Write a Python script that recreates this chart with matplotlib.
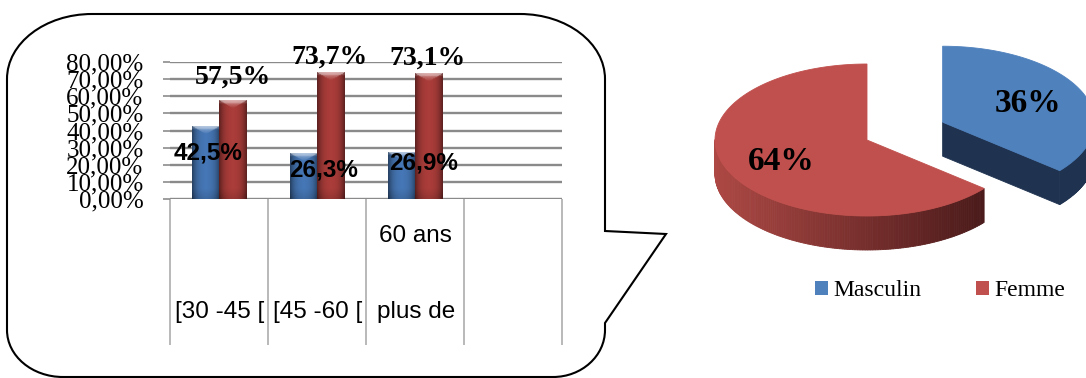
import textwrap

import numpy as np
import matplotlib.pyplot as plt
from matplotlib.path import Path
from matplotlib.patches import PathPatch, Polygon, Patch
from matplotlib.colors import to_rgb

# age groups and share of each sex (%)
categories = ["[30 -45 [", "[45 -60 [", "plus de 60 ans"]
masculin = [42.5, 26.3, 26.9]
femme = [57.5, 73.7, 73.1]
y_ticks = [0, 10, 20, 30, 40, 50, 60, 70, 80]

# overall split by sex (%)
pie_labels = ["Masculin", "Femme"]
pie_values = [36, 64]

BLUE = "#4f81bd"
RED = "#c0504d"
SERIF = "Liberation Serif"
SANS = "Liberation Sans"

W, H = 1086, 378
fig = plt.figure(figsize=(W / 100, H / 100), dpi=100)

# background layer in pixel units (y down) for the callout and the 3d pie
bg = fig.add_axes([0, 0, 1, 1])
bg.set_xlim(0, W)
bg.set_ylim(H, 0)
bg.axis("off")


def corner(p0, p1, p2):
    # cubic approximation of a quarter ellipse from p0 to p2 with control corner p1
    k = 0.5523
    c1 = (p0[0] + k * (p1[0] - p0[0]), p0[1] + k * (p1[1] - p0[1]))
    c2 = (p2[0] + k * (p1[0] - p2[0]), p2[1] + k * (p1[1] - p2[1]))
    return [c1, c2, p2]


left, right, top, bottom = 7, 605, 14, 377
verts = [(left + 85, top), (right - 85, top)]
codes = [Path.MOVETO, Path.LINETO]
verts += corner((right - 85, top), (right, top), (right, top + 65))
codes += [Path.CURVE4] * 3
verts += [(right, 231), (666, 234), (right, 323), (right, bottom - 47)]
codes += [Path.LINETO] * 4
verts += corner((right, bottom - 47), (right, bottom), (right - 52, bottom))
codes += [Path.CURVE4] * 3
verts += [(left + 56, bottom)]
codes += [Path.LINETO]
verts += corner((left + 56, bottom), (left, bottom), (left, bottom - 47))
codes += [Path.CURVE4] * 3
verts += [(left, top + 65)]
codes += [Path.LINETO]
verts += corner((left, top + 65), (left, top), (left + 85, top))
codes += [Path.CURVE4] * 3
bg.add_patch(PathPatch(Path(verts, codes), facecolor="white", edgecolor="black", lw=1.5))


# ---- 3d pie ----
cx, cy, rx, ry, depth = 867, 140, 152, 76, 34
explode = [0.55, 0.0]
pie_colors = [BLUE, RED]
side_colors = [("#1f3350", "#1f3350"), ("#ad4844", "#4a1a1a")]

fracs = np.array(pie_values, dtype=float) / sum(pie_values)
start = 90.0
wedges = []
for frac, ex in zip(fracs, explode):
    a0, a1 = start, start - 360 * frac
    mid = np.radians((a0 + a1) / 2)
    wx = cx + ex * rx * np.cos(mid)
    wy = cy - ex * ry * np.sin(mid)
    wedges.append((a0, a1, wx, wy))
    start = a1


def rim(wx, wy, a):
    a = np.radians(a)
    return wx + rx * np.cos(a), wy - ry * np.sin(a)


# sides first
for (a0, a1, wx, wy), (c_left, c_right) in zip(wedges, side_colors):
    angs = np.linspace(a0, a1, 240)
    xs = [rim(wx, wy, a)[0] for a in angs]
    xmin, xmax = min(xs), max(xs)
    cl, cr = np.array(to_rgb(c_left)), np.array(to_rgb(c_right))
    for a, b in zip(angs[:-1], angs[1:]):
        if np.sin(np.radians((a + b) / 2)) >= 0:
            continue
        pa, pb = rim(wx, wy, a), rim(wx, wy, b)
        t = ((pa[0] + pb[0]) / 2 - xmin) / (xmax - xmin)
        col = cl + (cr - cl) * t
        bg.add_patch(Polygon([pa, pb, (pb[0], pb[1] + depth), (pa[0], pa[1] + depth)],
                             closed=True, facecolor=col, edgecolor=col, lw=0.6))
    # radial faces turned towards the viewer
    for edge, normal in ((a0, a0 + 90), (a1, a1 - 90)):
        if np.sin(np.radians(normal)) < -0.05:
            pe = rim(wx, wy, edge)
            bg.add_patch(Polygon([(wx, wy), pe, (pe[0], pe[1] + depth), (wx, wy + depth)],
                                 closed=True, facecolor=c_left, edgecolor=c_left, lw=0.6))

# tops
for (a0, a1, wx, wy), col in zip(wedges, pie_colors):
    pts = [(wx, wy)] + [rim(wx, wy, a) for a in np.linspace(a0, a1, 200)]
    bg.add_patch(Polygon(pts, closed=True, facecolor=col, edgecolor=col, lw=0.6))

for (a0, a1, wx, wy), val in zip(wedges, pie_values):
    mid = np.radians((a0 + a1) / 2)
    bg.text(wx + 0.62 * rx * np.cos(mid), wy - 0.62 * ry * np.sin(mid) + 1, f"{val}%",
            ha="center", va="center", fontsize=24, fontweight="bold", family=SERIF)

bg.legend([Patch(facecolor=BLUE), Patch(facecolor=RED)], pie_labels,
          loc="center", bbox_to_anchor=(940, 291), bbox_transform=bg.transData,
          ncol=2, frameon=False, prop={"family": SERIF, "size": 17},
          handlelength=0.55, handleheight=0.55, handletextpad=0.25,
          columnspacing=2.3, borderpad=0)


# ---- grouped bars ----
ax = fig.add_axes([170 / W, 1 - 199 / H, 392 / W, 137 / H])
ax.set_facecolor("none")

x = np.arange(len(categories)) + 0.5
bw = 0.28
bars_m = ax.bar(x - bw / 2, masculin, bw, color=BLUE, zorder=2)
bars_f = ax.bar(x + bw / 2, femme, bw, color=RED, zorder=2)


def shade_bars(bars, base, cap=4.5):
    base = np.array(to_rgb(base))
    for rect in bars:
        x0, w, h = rect.get_x(), rect.get_width(), rect.get_height()
        u = np.linspace(0, 1, 40)[None, :]
        v = np.linspace(0, h, 120)[:, None]
        edge = np.abs(2 * u - 1)
        k = 1.0 - 0.38 * edge ** 3 - 0.08 * edge
        k = k - 0.12 * np.clip(1 - v / 6.0, 0, 1)
        img = base[None, None, :] * k[..., None]
        tip = (h - v) / cap
        light = np.where(tip < 1 - edge, 0.45 * (1 - tip), 0.0)
        light = light + np.where(tip < 0.35, 0.15, 0.0)
        img = img + (1 - img) * np.clip(light, 0, 0.6)[..., None]
        ax.imshow(np.clip(img, 0, 1), extent=(x0, x0 + w, 0, h), origin="lower",
                  aspect="auto", interpolation="bilinear", zorder=3)


shade_bars(bars_m, "#4677b6")
shade_bars(bars_f, "#ab3d3a")

ax.set_xlim(0, len(categories) + 1)
ax.set_ylim(0, 80)

ax.set_yticks(y_ticks)
ax.set_yticklabels([f"{t:.2f}".replace(".", ",") + "%" for t in y_ticks])
for lab in ax.get_yticklabels():
    lab.set_family(SERIF)
ax.tick_params(axis="y", length=5, color="#8c8c8c", width=1.2, pad=14, labelsize=18)
ax.yaxis.grid(True, color="#8a8a8a", lw=1.7)
ax.set_axisbelow(True)

ax.set_xticks(np.arange(len(categories) + 2))
ax.set_xticklabels([])
ax.tick_params(axis="x", length=105, color="#a6a6a6", width=1.1, direction="out")
for s in ax.spines.values():
    s.set_visible(False)

# category names below the axis, wrapped lines stacked upwards
for xi, name in zip(x, categories):
    for i, line in enumerate(textwrap.wrap(name, 9)):
        ax.annotate(line, (xi, 0), xytext=(0.5, -81.5 + i * 55), textcoords="offset points",
                    ha="center", va="center", fontsize=17.5, family=SANS)

# value labels (offsets in points)
off_m = [(2, -19.5), (14.5, -11.5), (16, -7)]
off_f = [(0, 17), (-1, 11), (-1, 11.5)]
for rect, val, (dx, dy) in zip(bars_m, masculin, off_m):
    ax.annotate(f"{val:.1f}".replace(".", ",") + "%", (rect.get_x() + rect.get_width() / 2, val),
                xytext=(dx, dy), textcoords="offset points", ha="center", va="center",
                fontsize=17.5, fontweight="bold", family=SANS, zorder=5)
for rect, val, (dx, dy) in zip(bars_f, femme, off_f):
    ax.annotate(f"{val:.1f}".replace(".", ",") + "%", (rect.get_x() + rect.get_width() / 2, val),
                xytext=(dx, dy), textcoords="offset points", ha="center", va="center",
                fontsize=20, fontweight="bold", family=SERIF, zorder=5, annotation_clip=False)

fig.savefig("out.png", dpi=100)
